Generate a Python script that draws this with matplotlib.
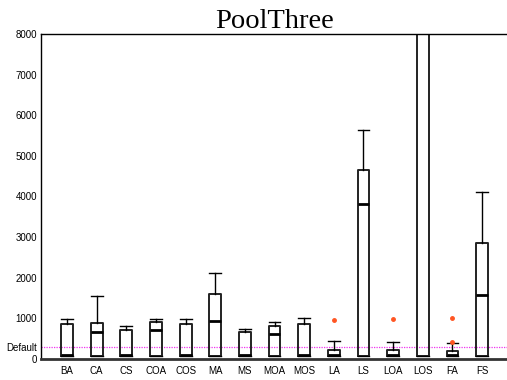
import matplotlib
matplotlib.use("Agg")
from matplotlib import pyplot as plt

# values
labels = ['BA', 'CA', 'CS', 'COA', 'COS', 'MA', 'MS', 'MOA', 'MOS',
          'LA', 'LS', 'LOA', 'LOS', 'FA', 'FS']
q1 = [70, 70, 70, 70, 70, 75, 70, 70, 70, 70, 75, 70, 75, 70, 75]
medians = [90, 660, 90, 705, 90, 930, 90, 615, 90, 90, 3820, 90, 9000, 90, 1585]
q3 = [850, 880, 705, 900, 850, 1610, 660, 820, 855, 222, 4650, 220, 9500, 205, 2850]
whishi = [990, 1550, 800, 990, 990, 2110, 730, 900, 1000, 435, 5635, 425, 10000, 385, 4110]
fliers = [[], [], [], [], [], [], [], [], [], [960], [], [985], [], [1020, 410], []]
default_value = 300

stats = []
for i in range(len(labels)):
    stats.append({
        'label': labels[i],
        'whislo': q1[i],
        'q1': q1[i],
        'med': medians[i],
        'q3': q3[i],
        'whishi': whishi[i],
        'fliers': fliers[i],
    })

plt.rcParams['font.family'] = ['Liberation Sans', 'DejaVu Sans']

fig = plt.figure(figsize=(5.07, 3.8), dpi=100)
ax = fig.add_axes([0.081, 0.0553, 0.919, 0.8552])

ax.axhline(default_value, color='#ee33ee', linestyle=(0, (1, 1)), linewidth=0.9, zorder=1)

ax.bxp(stats, positions=range(1, len(labels) + 1), widths=0.4, capwidths=0.4,
       showfliers=True,
       boxprops=dict(color='#222222', linewidth=1.4),
       medianprops=dict(color='black', linewidth=2),
       whiskerprops=dict(color='black', linewidth=1),
       capprops=dict(color='black', linewidth=1),
       flierprops=dict(marker='o', markersize=2.5, markerfacecolor='#ff5522',
                       markeredgecolor='#ff5522'))

ax.set_xlim(0.125, 15.84)
ax.set_ylim(0, 8000)
ax.set_yticks([0, default_value, 1000, 2000, 3000, 4000, 5000, 6000, 7000, 8000])
ax.set_yticklabels(['0', 'Default', '1000', '2000', '3000', '4000', '5000',
                    '6000', '7000', '8000'])
ax.tick_params(axis='both', length=0, labelsize=7, pad=3)
ax.tick_params(axis='x', pad=5)

ax.spines['right'].set_visible(False)
ax.spines['bottom'].set_linewidth(2)
ax.spines['bottom'].set_color('#333333')
ax.spines['left'].set_linewidth(1)
ax.spines['top'].set_linewidth(1)

ax.set_title('PoolThree', family='Liberation Serif', fontsize=20.5, pad=2)

fig.savefig('out.png', dpi=100)
